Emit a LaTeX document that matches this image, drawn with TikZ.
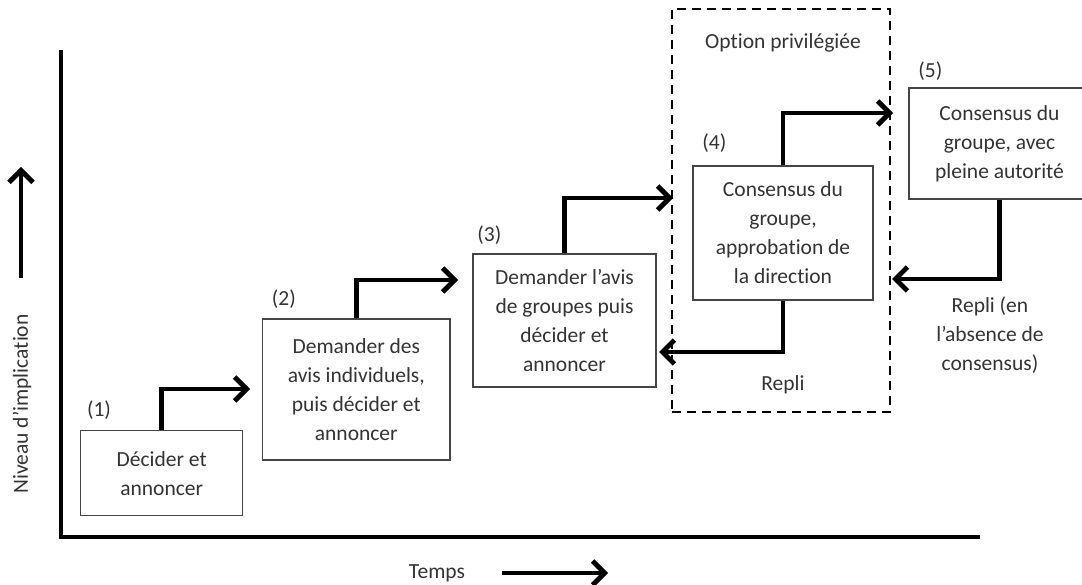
\documentclass[tikz,border=0pt]{standalone}
\usepackage{fontspec}
\setmainfont{Carlito}[Ligatures=NoCommon]
\usetikzlibrary{arrows.meta}
\definecolor{txt}{HTML}{333333}
\definecolor{frame}{HTML}{454545}
\begin{document}
\begin{tikzpicture}[x=1pt,y=-1pt,
  every node/.style={text=txt, font=\fontsize{21.5}{29}\selectfont},
  stage/.style={draw=frame, line width=1.3pt, fill=white, align=center, inner sep=0pt},
  num/.style={inner sep=0pt},
  note/.style={align=center, inner sep=0pt},
  flow/.style={line width=4.8pt, -{Straight Barb[length=12pt,width=24pt]}},
  axis/.style={line width=4pt},
  zone/.style={draw, dashed, dash pattern=on 9pt off 6pt, line width=2.4pt, inner sep=0pt}
]
\path[use as bounding box] (0,0) rectangle (1082,585);
\clip (0,0) rectangle (1082,585);

% axes
\coordinate (ytop) at (61,50);
\coordinate (xend) at (980,537);
\draw[axis] (ytop) |- (xend);

% axis captions
\coordinate (ya) at (21,278);
\coordinate (yb) at (21,167);
\draw[flow] (ya) -- (yb);
\node[rotate=90] (ylab) at (22,404) {Niveau d’implication};
\node (xlab) at (437,573) {Temps};
\coordinate (xa) at (502,573);
\coordinate (xb) at (608,573);
\draw[flow] (xa) -- (xb);

% preferred-option zone
\node[zone, minimum width=218pt, minimum height=403pt] (pref) at (781,210.5) {};
\node (preft) at (783,43) {Option privilégiée};
\node (repli) at (783,385) {Repli};

% stages
\node[stage, minimum width=162pt, minimum height=85pt] (b1) at (161.7,473.3) {Décider et\\annoncer};
\node[stage, minimum width=187.5pt, minimum height=141pt] (b2) at (356.3,389.5) {Demander des\\avis individuels,\\puis décider et\\annoncer};
\node[stage, minimum width=183pt, minimum height=133pt] (b3) at (564.5,320.5) {Demander l’avis\\de groupes puis\\décider et\\annoncer};
\node[stage, minimum width=180pt, minimum height=134pt] (b4) at (783,233) {Consensus du\\groupe,\\approbation de\\la direction};
\node[stage, minimum width=181pt, minimum height=111pt] (b5) at (999.5,143.5) {Consensus du\\groupe, avec\\pleine autorité};

% stage numbers
\node[num] (n1) at ([shift={(19,-20)}]b1.north west) {(1)};
\node[num] (n2) at ([shift={(22,-19)}]b2.north west) {(2)};
\node[num] (n3) at ([shift={(17,-18)}]b3.north west) {(3)};
\node[num] (n4) at ([shift={(22,-22)}]b4.north west) {(4)};
\node[num] (n5) at ([shift={(22,-16)}]b5.north west) {(5)};

% fallback note
\node[note] (fb) at (990,335) {Repli (en\\l’absence de\\consensus)};

% upward steps
\coordinate (t1) at (250,389);
\coordinate (t2) at (458,280);
\coordinate (t3) at (673,198);
\coordinate (t4) at (893,113);
\draw[flow] (b1.north) |- (t1);
\draw[flow] (b2.north) |- (t2);
\draw[flow] (b3.north) |- (t3);
\draw[flow] (b4.north) |- (t4);

% fallback steps
\coordinate (r4) at (659,352);
\coordinate (r5) at (892,279);
\draw[flow] (b4.south) |- (r4);
\draw[flow] (b5.south) |- (r5);
\end{tikzpicture}
\end{document}
